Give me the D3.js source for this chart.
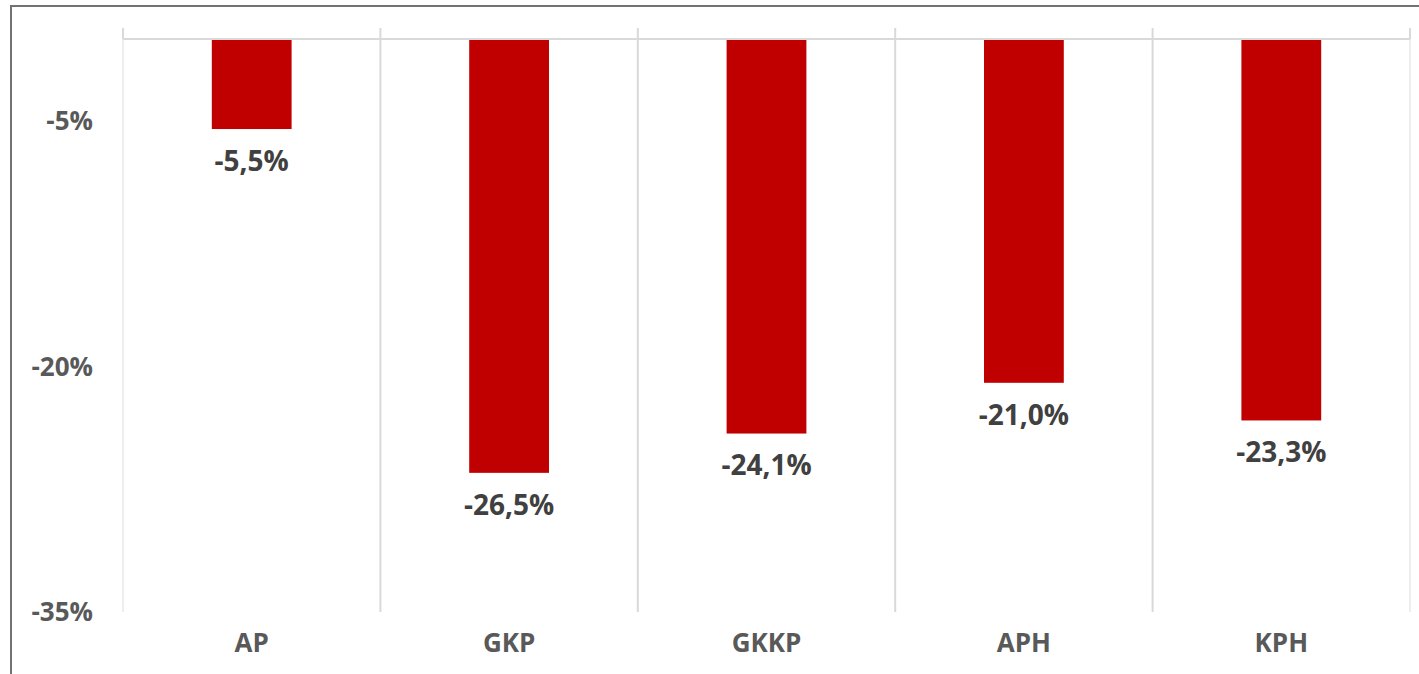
<!DOCTYPE html>
<html>
<head>
<meta charset="utf-8">
<script src="https://cdn.jsdelivr.net/npm/d3@7"></script>
<style>
  body { margin: 0; background: #fff; }
  svg { display: block; font-family: "Open Sans", "Noto Sans", sans-serif; font-weight: bold; }
</style>
</head>
<body>
<div id="chart"></div>
<script>
// Data
const categories = ["AP", "GKP", "GKKP", "APH", "KPH"];
const values = [-5.5, -26.5, -24.1, -21.0, -23.3];
const yTicks = [-5, -20, -35];

const W = 1419, H = 674;
const margin = { top: 39, right: 9, bottom: 62, left: 123 };
const width = W - margin.left - margin.right;
const height = H - margin.top - margin.bottom;

const svg = d3.select("#chart")
    .append("svg")
    .attr("width", W)
    .attr("height", H);

// Outer frame (runs past the right and bottom edges)
svg.append("rect")
    .attr("x", 11)
    .attr("y", 6)
    .attr("width", W + 20)
    .attr("height", H + 20)
    .attr("fill", "none")
    .attr("stroke", "#767171")
    .attr("stroke-width", 2);

const g = svg.append("g")
    .attr("transform", "translate(" + margin.left + "," + margin.top + ")");

const x = d3.scaleBand()
    .domain(categories)
    .range([0, width])
    .paddingInner(0)
    .paddingOuter(0);

const y = d3.scaleLinear()
    .domain([0, -35])
    .range([0, height]);

// Vertical gridlines at category boundaries
const bounds = categories.map(c => x(c)).concat([width]);
g.selectAll(".grid")
    .data(bounds)
    .enter()
    .append("line")
    .attr("x1", d => d)
    .attr("x2", d => d)
    .attr("y1", y(0))
    .attr("y2", y(-35))
    .attr("stroke", (d, i) => (i === 0 || i === bounds.length - 1) ? "#eeeeee" : "#d9d9d9")
    .attr("stroke-width", 2);

// Category axis at zero, tick marks pointing up
g.selectAll(".tick-up")
    .data(bounds)
    .enter()
    .append("line")
    .attr("x1", d => d)
    .attr("x2", d => d)
    .attr("y1", y(0) - 11)
    .attr("y2", y(0))
    .attr("stroke", "#d9d9d9")
    .attr("stroke-width", 2);

g.append("line")
    .attr("x1", 0)
    .attr("x2", width)
    .attr("y1", y(0))
    .attr("y2", y(0))
    .attr("stroke", "#d9d9d9")
    .attr("stroke-width", 2);

// Bars
const barW = x.bandwidth() * 0.31;
g.selectAll(".bar")
    .data(values)
    .enter()
    .append("rect")
    .attr("class", "bar")
    .attr("x", (d, i) => x(categories[i]) + (x.bandwidth() - barW) / 2)
    .attr("y", y(0) + 1)
    .attr("width", barW)
    .attr("height", d => y(d) - y(0) - 1)
    .attr("fill", "#c00000");

// Data labels
g.selectAll(".label")
    .data(values)
    .enter()
    .append("text")
    .attr("x", (d, i) => x(categories[i]) + x.bandwidth() / 2)
    .attr("y", d => y(d) + 32)
    .attr("dy", "0.35em")
    .attr("text-anchor", "middle")
    .attr("fill", "#404040")
    .style("font-size", "28px")
    .text(d => d.toFixed(1).replace(".", ",") + "%");

// Y axis labels
g.selectAll(".ylab")
    .data(yTicks)
    .enter()
    .append("text")
    .attr("x", -30)
    .attr("y", d => y(d))
    .attr("dy", "0.35em")
    .attr("text-anchor", "end")
    .attr("fill", "#595959")
    .style("font-size", "26px")
    .text(d => d + "%");

// Category labels
g.selectAll(".xlab")
    .data(categories)
    .enter()
    .append("text")
    .attr("x", d => x(d) + x.bandwidth() / 2)
    .attr("y", height + 31)
    .attr("dy", "0.35em")
    .attr("text-anchor", "middle")
    .attr("fill", "#595959")
    .style("font-size", "26px")
    .text(d => d);
</script>
</body>
</html>
